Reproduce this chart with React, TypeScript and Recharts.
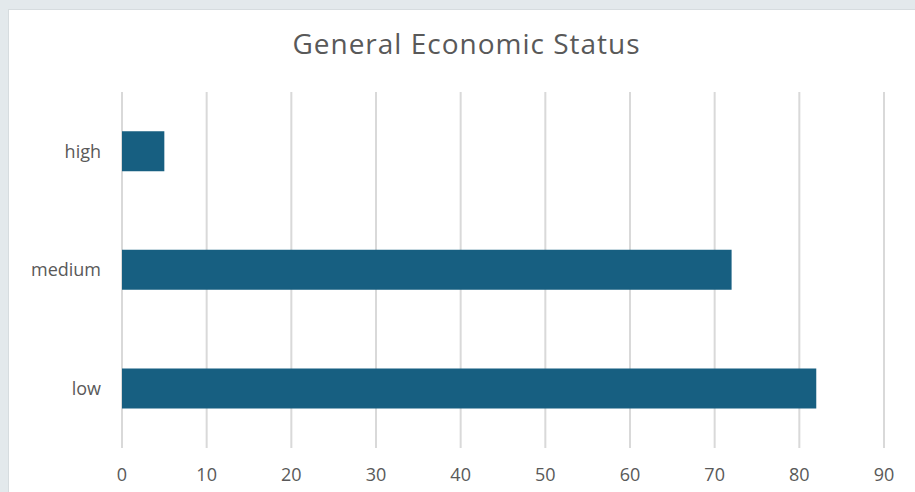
import React from "react";
import { BarChart, Bar, XAxis, YAxis, CartesianGrid } from "recharts";

const categories = ["high", "medium", "low"];
const counts = [5, 72, 82];
const xTicks = [0, 10, 20, 30, 40, 50, 60, 70, 80, 90];
const title = "General Economic Status";

const data = categories.map((c, i) => ({ status: c, count: counts[i] }));

const FONT = "'Open Sans', 'Liberation Sans', sans-serif";
const TEXT = "#595959";

export default function App() {
  return (
    <div
      style={{
        position: "absolute",
        left: 0,
        top: 0,
        width: 915,
        height: 492,
        background: "#e3e9ec",
        overflow: "hidden",
      }}
    >
      <div
        style={{
          position: "absolute",
          left: 8,
          top: 9,
          width: 907,
          height: 483,
          background: "#ffffff",
          borderTop: "1px solid #d6dcdf",
          borderLeft: "1px solid #d6dcdf",
          boxSizing: "border-box",
        }}
      >
        <div
          style={{
            position: "absolute",
            left: 0,
            top: 16,
            width: 915,
            textAlign: "center",
            fontFamily: FONT,
            fontSize: 28,
            letterSpacing: 1,
            color: TEXT,
            lineHeight: "34px",
          }}
        >
          {title}
        </div>
        <BarChart
          width={907}
          height={483}
          data={data}
          layout="vertical"
          margin={{ top: 82, right: 32, bottom: 5, left: 0 }}
          barCategoryGap="33%"
        >
          <CartesianGrid
            horizontal={false}
            vertical={true}
            stroke="#d9d9d9"
            strokeWidth={2}
          />
          <XAxis
            type="number"
            domain={[0, 90]}
            ticks={xTicks}
            axisLine={false}
            tickLine={false}
            tickMargin={14}
            height={40}
            tick={{ fill: TEXT, fontSize: 18, fontFamily: FONT }}
          />
          <YAxis
            type="category"
            dataKey="status"
            axisLine={false}
            tickLine={false}
            width={113}
            tickMargin={15}
            tick={{ fill: TEXT, fontSize: 18, fontFamily: FONT }}
          />
          <Bar dataKey="count" fill="#175f81" isAnimationActive={false} />
        </BarChart>
      </div>
    </div>
  );
}
